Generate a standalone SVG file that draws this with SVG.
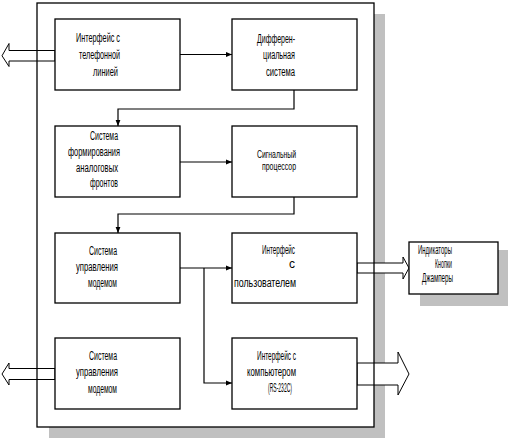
<svg xmlns="http://www.w3.org/2000/svg" width="512" height="441" viewBox="0 0 512 441">
<style>
.box{fill:#fff;stroke:#000;stroke-width:1.3}
.shadow{fill:#c0c0c0}
.ln{fill:none;stroke:#000;stroke-width:1.2}
.ha{fill:#fff;stroke:#000;stroke-width:1}
text{font-family:"Liberation Sans","DejaVu Sans",sans-serif;font-size:12px;fill:#000;text-anchor:end}
.sm{font-size:10.5px}
</style>
<defs>
<marker id="ah" viewBox="0 0 10 10" refX="10" refY="5" markerWidth="6" markerHeight="6" orient="auto" markerUnits="userSpaceOnUse">
<path d="M0,1 L10,5 L0,9 Z" fill="#000"/>
</marker>
</defs>
<rect id="frame-bg" x="37" y="3" width="337" height="424" fill="#fff"/>
<g id="shadows">
<rect class="shadow" x="374" y="14" width="11" height="424"/>
<rect class="shadow" x="49" y="427" width="336" height="11"/>
<rect class="shadow" x="420" y="250" width="88" height="56"/>
</g>
<g id="hollow-arrows">
<polygon class="ha" points="55,50.5 9,50.5 9,43.5 2,55.8 9,66.5 9,61 55,61"/>
<polygon class="ha" points="55,368.5 9,368.5 9,363 2,374 9,385 9,379.5 55,379.5"/>
<polygon class="ha" points="357,263 403,263 403,257 409,268 403,279 403,273 357,273"/>
<polygon class="ha" points="357,363 398,363 398,352 409,374 398,395 398,385 357,385"/>
</g>
<rect id="frame" x="37" y="3" width="337" height="424" fill="none" stroke="#000" stroke-width="1.3"/>
<g id="connectors">
<path class="ln" d="M180,54.5 H232" marker-end="url(#ah)"/>
<path class="ln" d="M294,90 V109 H118 V126" marker-end="url(#ah)"/>
<path class="ln" d="M180,162 H232" marker-end="url(#ah)"/>
<path class="ln" d="M294,197 V214 H118 V233" marker-end="url(#ah)"/>
<path class="ln" d="M180,268 H232" marker-end="url(#ah)"/>
<path class="ln" d="M204,268 V383 H232" marker-end="url(#ah)"/>
</g>
<g id="n1">
<rect class="box" x="55" y="19" width="125" height="71"/>
<text x="120" y="42" textLength="44" lengthAdjust="spacingAndGlyphs">Интерфейс с</text>
<text x="120" y="59" textLength="41" lengthAdjust="spacingAndGlyphs">телефонной</text>
<text x="118" y="76" textLength="25" lengthAdjust="spacingAndGlyphs">линией</text>
</g>
<g id="n2">
<rect class="box" x="232" y="19" width="125" height="71"/>
<text x="295" y="43" textLength="38" lengthAdjust="spacingAndGlyphs">Дифферен-</text>
<text x="295" y="59" textLength="32" lengthAdjust="spacingAndGlyphs">циальная</text>
<text x="295" y="76" textLength="29" lengthAdjust="spacingAndGlyphs">система</text>
</g>
<g id="n3">
<rect class="box" x="55" y="126" width="125" height="71"/>
<text x="118" y="140" textLength="28" lengthAdjust="spacingAndGlyphs">Система</text>
<text x="120" y="156" textLength="52" lengthAdjust="spacingAndGlyphs">формирования</text>
<text x="118" y="172" textLength="42" lengthAdjust="spacingAndGlyphs">аналоговых</text>
<text x="118" y="187" textLength="28" lengthAdjust="spacingAndGlyphs">фронтов</text>
</g>
<g id="n4">
<rect class="box" x="232" y="126" width="125" height="71"/>
<text class="sm" x="296" y="158" textLength="39" lengthAdjust="spacingAndGlyphs">Сигнальный</text>
<text class="sm" x="296" y="170" textLength="34" lengthAdjust="spacingAndGlyphs">процессор</text>
</g>
<g id="n5">
<rect class="box" x="55" y="233" width="125" height="70"/>
<text x="117" y="255" textLength="28" lengthAdjust="spacingAndGlyphs">Система</text>
<text x="118" y="271" textLength="42" lengthAdjust="spacingAndGlyphs">управления</text>
<text x="117" y="287" textLength="29" lengthAdjust="spacingAndGlyphs">модемом</text>
</g>
<g id="n6">
<rect class="box" x="232" y="233" width="125" height="70"/>
<text x="295" y="254" textLength="33" lengthAdjust="spacingAndGlyphs">Интерфейс</text>
<text x="295" y="268">с</text>
<text x="296" y="287" textLength="62" lengthAdjust="spacingAndGlyphs">пользователем</text>
</g>
<g id="n7">
<rect class="box" x="55" y="338" width="125" height="71"/>
<text x="117" y="360" textLength="28" lengthAdjust="spacingAndGlyphs">Система</text>
<text x="118" y="376" textLength="42" lengthAdjust="spacingAndGlyphs">управления</text>
<text x="117" y="393" textLength="29" lengthAdjust="spacingAndGlyphs">модемом</text>
</g>
<g id="n8">
<rect class="box" x="232" y="338" width="125" height="71"/>
<text x="296" y="360" textLength="39" lengthAdjust="spacingAndGlyphs">Интерфейс с</text>
<text x="296" y="376" textLength="49" lengthAdjust="spacingAndGlyphs">компьютером</text>
<text x="292" y="392" textLength="24" lengthAdjust="spacingAndGlyphs">(RS-232C)</text>
</g>
<g id="n9">
<rect class="box" x="409" y="242" width="89" height="52"/>
<text x="452" y="254" textLength="34" lengthAdjust="spacingAndGlyphs">Индикаторы</text>
<text x="452" y="268" textLength="17" lengthAdjust="spacingAndGlyphs">Кнопки</text>
<text x="453" y="282" textLength="31" lengthAdjust="spacingAndGlyphs">Джамперы</text>
</g>
</svg>
